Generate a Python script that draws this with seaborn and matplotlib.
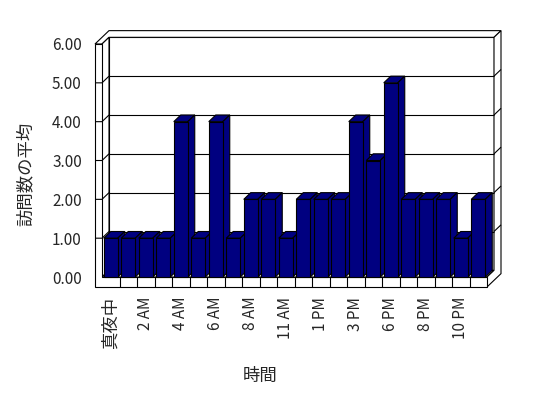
import matplotlib
matplotlib.use('Agg')
import matplotlib.pyplot as plt
import pandas as pd
import seaborn as sns
from matplotlib.patches import Polygon

# data
hours = ['真夜中', '1 AM', '2 AM', '3 AM', '4 AM', '5 AM', '6 AM', '7 AM',
         '8 AM', '9 AM', '11 AM', '12 PM', '1 PM', '2 PM', '3 PM', '4 PM',
         '6 PM', '7 PM', '8 PM', '9 PM', '10 PM', '11 PM']
visits = [1, 1, 1, 1, 4, 1, 4, 1, 2, 2, 1, 2, 2, 2, 4, 3, 5, 2, 2, 2, 1, 2]
y_ticks = [0, 1, 2, 3, 4, 5, 6]

NAVY = '#000080'
LW = 0.8

sns.set_style('white')
plt.rcParams['font.family'] = ['Noto Sans CJK JP', 'DejaVu Sans']

df = pd.DataFrame({'時間': hours, '訪問数の平均': visits})

W, H = 548, 398
fig = plt.figure(figsize=(W / 100, H / 100), dpi=100)
ax = fig.add_axes([95 / W, (H - 287) / H, (487 - 95) / W, (287 - 44) / H])

sns.barplot(data=df, x='時間', y='訪問数の平均', order=hours, color=NAVY,
            saturation=1, width=0.8, edgecolor='black', linewidth=LW,
            errorbar=None, ax=ax)
bars = list(ax.patches)

# geometry of the fake 3D box (data units)
X0, X1, XR = -0.9, -0.5, 21.5
YF, YT = -0.257, 6
dx, dy = 0.4, 0.172

ax.set_xlim(X0, XR)
ax.set_ylim(YF, YT)
for s in ax.spines.values():
    s.set_visible(False)


def poly(pts, z, fc='white'):
    ax.add_patch(Polygon(pts, closed=True, fc=fc, ec='black', lw=LW,
                         zorder=z, clip_on=False))


def line(xs, ys, z=2):
    ax.plot(xs, ys, color='black', lw=LW, zorder=z, clip_on=False,
            solid_capstyle='butt')


# back wall
poly([(X1 + dx, dy), (XR + dx, dy), (XR + dx, YT + dy), (X1 + dx, YT + dy)], 1)
# top of walls
poly([(X0, YT), (X1, YT), (X1 + dx, YT + dy), (XR + dx, YT + dy),
      (XR + 2 * dx, YT + 2 * dy), (X0 + 2 * dx, YT + 2 * dy)], 1)
# left wall inner face
poly([(X1, 0), (X1, YT), (X1 + dx, YT + dy), (X1 + dx, dy)], 1)
# floor top
poly([(X1, 0), (XR, 0), (XR + dx, dy), (X1 + dx, dy)], 1)
# right side of floor + back wall
poly([(XR, YF), (XR, 0), (XR + dx, dy), (XR + dx, YT + dy),
      (XR + 2 * dx, YT + 2 * dy), (XR + 2 * dx, YF + 2 * dy)], 1)
# left wall front + floor front
poly([(X0, YF), (XR, YF), (XR, 0), (X1, 0), (X1, YT), (X0, YT)], 1)

for i in range(len(hours) - 1):
    line([i + 0.5, i + 0.5], [YF, 0])

for v in y_ticks[1:-1]:
    line([X1 + dx, XR + dx], [v + dy, v + dy])
    line([X0, X1, X1 + dx], [v, v, v + dy])
    line([XR + dx, XR + 2 * dx], [v + dy, v + 2 * dy])

# bars: side and top faces behind each front face
for i, p in enumerate(bars):
    x, w, h = p.get_x(), p.get_width(), p.get_height()
    p.set_zorder(11 + 2 * i)
    poly([(x, h), (x + w, h), (x + w + dx, h + dy), (x + dx, h + dy)],
         10 + 2 * i, NAVY)
    poly([(x + w, 0), (x + w + dx, dy), (x + w + dx, h + dy), (x + w, h)],
         10 + 2 * i, NAVY)

ax.set_yticks(y_ticks)
ax.set_yticklabels([f'{v:.2f}' for v in y_ticks], fontsize=11)
ax.tick_params(axis='y', length=0, pad=9.5)

ax.set_xticks(range(0, len(hours), 2))
ax.set_xticklabels(hours[::2], rotation=90, fontsize=11)
ax.tick_params(axis='x', length=0, pad=7)
ax.get_xticklabels()[0].set_fontsize(12.5)

ax.set_ylabel('訪問数の平均', fontsize=12.5)
ax.yaxis.set_label_coords(-0.155, 0.465)
ax.set_xlabel('時間', fontsize=12.5)
ax.xaxis.set_label_coords(0.421, -0.33)

fig.savefig('out.png', dpi=100, facecolor='white')
